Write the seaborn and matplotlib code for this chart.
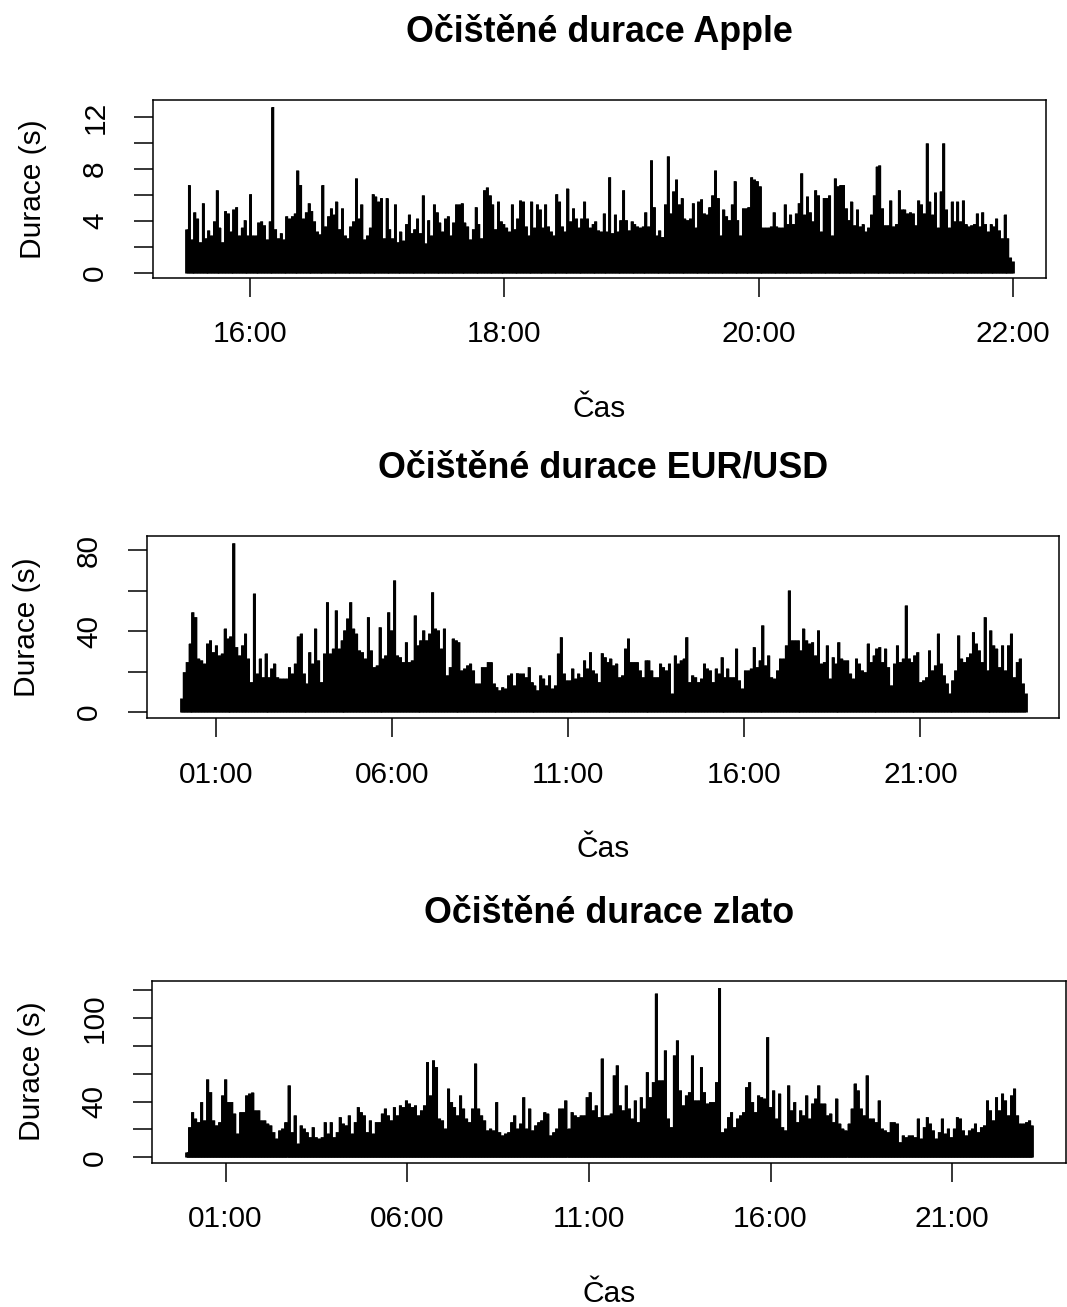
import pandas as pd
import matplotlib
matplotlib.use("Agg")
import matplotlib.pyplot as plt
import matplotlib.dates as mdates
import seaborn as sns

# Cleaned trade durations (seconds), one value per time step
apple_durations = [
    3.4, 6.8, 2.6, 4.7, 4.2, 2.4, 5.4, 2.7, 3.3, 2.9,
    4.0, 6.4, 3.5, 2.4, 4.8, 4.6, 3.2, 4.9, 5.1,
    2.9, 3.5, 4.1, 2.9, 6.1, 2.9, 2.9, 3.9, 4.0,
    3.7, 2.6, 4.0, 12.8, 3.4, 2.7, 3.1, 2.6, 4.4, 4.2,
    4.4, 4.6, 7.9, 6.8, 4.2, 4.7, 5.4, 4.8, 4.0, 3.2,
    3.0, 6.8, 3.6, 4.4, 5.0, 4.5, 5.5, 3.4, 5.0, 2.9,
    2.7, 3.6, 4.0, 7.3, 4.2, 5.3, 2.6, 2.9, 3.5, 6.1,
    5.9, 5.5, 5.8, 2.7, 5.8, 3.4, 2.7, 5.3, 2.4, 3.2,
    2.5, 3.8, 4.5, 3.1, 3.4, 4.2, 3.1, 6.0, 2.3, 4.1,
    2.9, 5.3, 4.7, 3.9, 3.2, 4.2, 4.4, 2.9, 3.9, 5.3,
    5.3, 5.4, 3.9, 3.6, 2.6, 3.4, 5.1, 3.8, 2.7, 6.4,
    6.6, 6.0, 5.3, 3.4, 5.5, 4.0, 3.8, 3.5, 3.2, 5.3,
    3.4, 4.2, 5.6, 5.5, 3.6, 2.9, 5.5, 3.5, 5.3, 4.9,
    3.5, 5.3, 3.6, 3.2, 2.9, 6.1, 5.5, 3.6, 3.2, 6.5,
    4.0, 5.0, 4.2, 3.5, 4.2, 5.5, 4.2, 3.5, 3.8, 4.0,
    3.3, 3.2, 4.6, 3.2, 7.4, 3.1, 4.5, 3.2, 4.1, 6.4,
    4.1, 3.3, 4.0, 3.8, 3.6, 3.5, 3.6, 4.7, 3.6, 8.7,
    5.1, 2.9, 3.3, 2.8, 5.3, 9.0, 4.6, 6.3, 7.2, 5.3,
    5.8, 4.2, 4.1, 4.2, 5.4, 3.5, 5.5, 5.7, 4.6, 4.5,
    5.1, 6.0, 7.9, 5.8, 2.9, 4.9, 4.4, 4.1, 5.3, 7.1,
    4.1, 2.9, 5.0, 5.0, 5.1, 7.4, 7.2, 7.1, 6.7, 3.5,
    3.5, 3.5, 3.6, 4.7, 3.6, 3.5, 3.5, 5.3, 3.8, 4.5,
    3.8, 4.6, 5.4, 7.7, 4.5, 5.9, 4.7, 4.0, 6.4, 6.0,
    3.2, 5.8, 5.8, 6.0, 2.9, 7.3, 6.7, 6.8, 6.8, 5.0,
    4.1, 5.5, 3.7, 4.9, 3.6, 3.8, 3.2, 3.5, 4.5, 6.0,
    8.2, 8.3, 5.0, 3.7, 3.7, 5.6, 3.6, 3.8, 6.4, 4.9,
    4.9, 4.6, 4.7, 4.6, 3.7, 5.6, 5.3, 4.6, 10.0, 5.5,
    4.5, 6.2, 3.5, 6.3, 10.0, 4.9, 3.5, 5.5, 4.0, 5.5,
    4.0, 5.6, 3.8, 3.6, 3.7, 3.8, 4.6, 3.6, 4.7, 3.8,
    3.2, 3.8, 3.6, 4.2, 3.3, 2.7, 4.5, 2.7, 1.2, 0.9,
]

eurusd_durations = [
    6.7, 19.9, 24.9, 33.9, 49.5, 47.1, 26.5, 25.7, 24.0, 33.9,
    35.6, 29.8, 33.1, 28.1, 29.0, 41.3, 36.4, 37.5, 83.6, 32.3,
    28.1, 33.1, 38.8, 26.5, 15.0, 58.6, 19.1, 26.5,
    17.4, 29.0, 17.4, 21.6, 24.0, 17.4, 16.6, 16.6,
    16.6, 22.4, 19.1, 24.0, 37.5, 38.8, 19.1, 14.2,
    29.8, 24.0, 41.3, 25.7, 15.0, 29.0, 54.5, 29.0,
    31.4, 50.4, 31.4, 35.6, 40.5, 46.3, 54.5, 41.3,
    38.8, 30.6, 29.8, 26.5, 47.1, 30.6, 22.4, 23.2,
    42.1, 26.5, 28.1, 49.5, 40.5, 65.2, 28.1, 27.3,
    24.9, 34.7, 24.9, 25.7, 47.9, 33.1, 35.6, 40.5,
    35.6, 38.8, 59.4, 41.3, 40.5, 31.4, 41.3, 18.3,
    22.4, 36.4, 35.6, 34.7, 20.7, 21.6, 23.2, 24.0,
    20.7, 14.2, 14.2, 22.4, 22.4, 24.9, 24.9, 14.2,
    12.5, 10.9, 12.5, 11.7, 18.3, 19.1, 13.3, 19.4,
    19.1, 19.1, 17.4, 22.4, 15.0, 13.3, 10.9, 18.3,
    16.6, 13.3, 18.3, 11.7, 13.3, 29.0, 37.2, 19.1,
    15.8, 15.8, 21.6, 16.6, 19.1, 17.4, 25.7, 21.6,
    29.8, 20.7, 19.1,
    15.0, 29.3, 27.3, 24.9, 26.5, 23.2, 24.0, 17.4,
    18.3, 31.4, 36.4, 24.9, 24.9, 24.9, 20.7, 17.4,
    25.7, 25.7, 20.7, 17.4, 17.4, 24.0, 22.4, 20.7,
    24.0, 9.2, 28.1, 24.0, 25.7, 26.5, 37.2, 15.0,
    18.3, 17.4, 15.0, 16.6, 24.0, 21.6, 20.7, 15.0,
    21.6, 19.1, 27.3, 17.4, 21.6, 17.4, 17.4, 31.4,
    15.8, 11.7, 20.7, 20.7, 21.6, 32.3, 22.4, 25.7,
    43.0, 23.2, 28.1, 17.4, 16.6, 20.7, 26.5, 26.5,
    33.1, 60.2, 35.6, 35.6, 35.6, 30.6, 41.3, 35.6,
    33.9, 34.7, 28.1, 40.5, 24.0, 24.9, 33.1, 16.6,
    27.3, 24.0, 34.7, 26.5, 25.7, 25.7, 19.1, 16.6,
    26.5, 24.0, 20.7, 19.9, 33.9, 24.9, 28.1, 31.4,
    32.3, 24.9, 31.4, 22.4, 13.3, 24.0, 33.1, 24.9,
    26.5, 52.8, 26.5, 24.9, 28.1, 29.8, 15.0, 15.8,
    17.4, 30.6, 20.7, 23.2, 38.8, 24.0, 18.3, 14.2,
    9.2, 15.8, 20.7, 38.0, 26.5, 24.9, 27.3, 29.0,
    39.7, 33.9, 30.6, 24.9, 47.1, 20.7, 40.5, 33.1,
    31.4, 22.4, 33.1, 20.7, 33.1, 38.8, 17.4, 24.9,
    26.5, 14.2, 9.2,
]

gold_durations = [
    4.1, 22.0, 32.8, 28.0, 25.6, 40.0, 26.8, 56.2, 47.1, 26.8,
    23.2, 25.6, 44.7, 56.2, 40.0, 40.0, 31.6, 17.2, 32.8, 32.8,
    44.7, 45.9, 46.7, 34.0, 34.0, 26.8, 26.8, 24.4, 23.2, 18.4,
    13.6, 19.6, 20.8, 25.6, 51.9, 18.4, 30.4, 10.0, 23.2, 20.8,
    18.4, 14.8, 22.0, 14.8, 13.6, 14.8, 25.6, 17.2, 25.6,
    14.8, 18.4, 29.2, 24.4, 23.2, 30.4, 17.2, 25.6, 36.4, 32.8,
    30.4, 18.4, 26.8, 17.2, 25.6, 25.6, 31.6, 35.2, 30.4, 26.8,
    36.4, 30.4, 37.6, 36.4, 41.1, 38.8, 36.4, 37.6, 30.4, 34.0,
    37.6, 68.7, 44.7, 69.9, 65.1, 28.0, 26.8, 20.8, 49.5, 40.0,
    36.4, 30.4, 44.7, 35.2, 28.0, 25.6, 35.2, 67.5, 35.2, 30.4,
    26.8, 19.6, 20.8, 19.6, 40.0, 18.4, 16.0, 17.2, 18.4,
    25.6, 30.4, 20.8, 24.4, 43.5, 20.8, 35.2, 19.6, 23.2, 25.6,
    26.8, 32.8, 31.6, 16.0, 18.4, 20.8, 35.2, 35.2, 41.1, 20.8,
    32.8, 30.4, 29.2, 30.4, 30.4, 43.5, 47.1, 34.0, 37.6, 29.2,
    71.1, 30.4,
    30.4, 31.6, 59.1, 66.3, 37.6, 34.0, 51.9, 35.2, 28.0, 41.1,
    25.6, 43.5, 35.2, 61.5, 43.5, 54.3, 117.7, 55.5, 55.5, 77.0,
    28.0, 22.0, 73.4, 84.2, 48.3, 37.6, 44.7, 47.1, 73.4, 41.1,
    41.1, 65.1, 47.1, 38.8, 40.0, 40.0, 54.3, 121.8, 18.4, 20.8,
    29.2, 32.8, 22.0, 28.0, 30.4, 32.8, 50.7, 54.3, 40.0, 32.8,
    44.7, 43.5, 42.3, 86.6, 36.4, 48.3, 28.0, 45.9, 22.0, 19.6,
    51.9, 34.0, 40.0, 25.6, 34.0, 30.4, 44.7, 28.0, 38.8, 42.3,
    51.9, 38.8, 38.8, 30.4, 31.6, 25.6, 42.3, 24.4, 20.8, 19.6,
    24.4, 35.2, 53.1, 48.3, 35.2, 30.4, 59.1, 28.0, 28.0, 25.6,
    41.1, 20.8, 19.6, 18.4, 25.6, 25.6, 24.4, 11.2, 16.0, 14.8,
    16.0, 16.0, 14.8, 28.0, 13.6, 22.0, 29.2, 24.4, 19.6, 13.6,
    18.4, 28.0, 17.2, 20.8, 14.8, 20.8, 29.2, 28.0, 19.6, 16.0,
    19.6, 20.8, 24.4, 18.4, 22.0, 23.2, 41.1, 34.0, 26.8, 43.5,
    34.0, 45.9, 41.1, 30.4, 44.7, 49.5, 30.4, 24.4, 24.4, 25.6,
    26.8, 23.2,
]

# Observation windows
apple_span = ("2016-03-01 15:30", "2016-03-01 22:00")
eurusd_span = ("2016-03-01 00:00", "2016-03-01 23:59")
gold_span = ("2016-02-29 23:55", "2016-03-01 23:12")

apple_xticks = ["16:00", "18:00", "20:00", "22:00"]
day_xticks = ["01:00", "06:00", "11:00", "16:00", "21:00"]

titles = ["Očištěné durace Apple", "Očištěné durace EUR/USD", "Očištěné durace zlato"]
x_label = "Čas"
y_label = "Durace (s)"

sns.set_theme(style="ticks")
plt.rcParams["font.family"] = ["Liberation Sans", "DejaVu Sans"]
plt.rcParams.update({
    "axes.edgecolor": "black", "axes.labelcolor": "black", "text.color": "black",
    "xtick.color": "black", "ytick.color": "black", "axes.linewidth": 1.1,
})

W, H = 1067, 1307
fig = plt.figure(figsize=(W / 100, H / 100), dpi=100)

# panel boxes in pixels: left, top, right, bottom
boxes = [(153, 100, 1046, 277.7), (147, 535.5, 1059.3, 718.3), (152.3, 980.7, 1066, 1162.5)]
series = [apple_durations, eurusd_durations, gold_durations]
spans = [apple_span, eurusd_span, gold_span]
tick_sets = [apple_xticks, day_xticks, day_xticks]
ylims = [(-0.36, 13.3), (-3.1, 87.2), (-3.7, 126.7)]
y_major = [[0, 4, 8, 12], [0, 40, 80], [0, 40, 100]]
y_minor = [[2, 6, 10], [20, 60], [20, 60, 80, 120]]
tick_days = ["2016-03-01", "2016-03-01", "2016-03-01"]

for k in range(3):
    l, t, r, b = boxes[k]
    ax = fig.add_axes([l / W, 1 - b / H, (r - l) / W, (b - t) / H])
    vals = series[k]
    times = pd.date_range(spans[k][0], spans[k][1], periods=len(vals))
    x = mdates.date2num(times.to_pydatetime())
    # histogram-like vertical lines from zero, with a step fill closing the gaps between them
    ax.fill_between(x, 0, vals, step="mid", color="black", linewidth=0)
    ax.vlines(x, 0, vals, color="black", linewidth=2.0)

    span = x[-1] - x[0]
    ax.set_xlim(x[0] - 0.04 * span, x[-1] + 0.04 * span)
    ax.set_ylim(*ylims[k])

    tick_pos = mdates.date2num([pd.Timestamp(f"{tick_days[k]} {s}").to_pydatetime() for s in tick_sets[k]])
    ax.set_xticks(tick_pos)
    ax.set_xticklabels(tick_sets[k])
    ax.set_yticks(y_major[k])
    ax.set_yticklabels([str(v) for v in y_major[k]])
    ax.set_yticks(y_minor[k], minor=True)

    ax.tick_params(axis="both", which="both", direction="out", length=13.5, width=1.1,
                   labelsize=21.5)
    ax.tick_params(axis="x", pad=17)
    ax.tick_params(axis="y", pad=18, labelrotation=90)
    for lab in ax.get_yticklabels():
        lab.set_va("center")

    for s in ax.spines.values():
        s.set_visible(True)
        s.set_linewidth(1.1)

    ax.set_title(titles[k], fontsize=25.8, fontweight="bold", pad=41.5)
    ax.set_xlabel(x_label, fontsize=21.5)
    ax.xaxis.label.set_va("baseline")
    ax.xaxis.set_label_coords(0.5, -139.0 / (b - t))
    ax.set_ylabel(y_label, fontsize=21.5)
    ax.yaxis.label.set_va("baseline")
    ax.yaxis.set_label_coords(-112.0 / (r - l), 0.5)

fig.savefig("out.png", dpi=100, facecolor="white")
